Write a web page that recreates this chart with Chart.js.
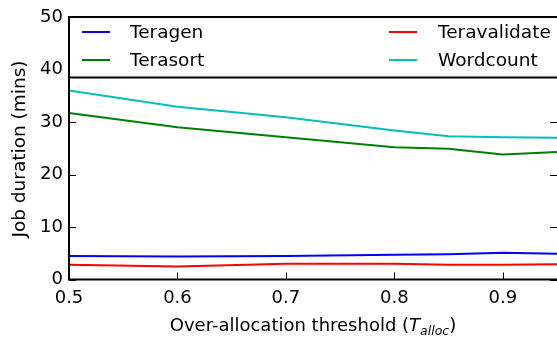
<!DOCTYPE html>
<html>
<head>
<meta charset="utf-8">
<script src="https://cdn.jsdelivr.net/npm/chart.js@4/dist/chart.umd.min.js"></script>
<style>
  html, body { margin: 0; padding: 0; background: #fff; }
  canvas { display: block; }
</style>
</head>
<body>
<canvas id="chart" width="557" height="339"></canvas>
<script>
// over-allocation thresholds (x) and job durations in minutes
const thresholds = [0.5, 0.6, 0.7, 0.8, 0.85, 0.9, 0.95];
const teragen = [4.5, 4.4, 4.5, 4.7, 4.8, 5.1, 4.9];
const teravalidate = [2.8, 2.5, 3.0, 3.0, 2.8, 2.8, 2.9];
const terasort = [31.7, 29.0, 27.1, 25.2, 24.9, 23.8, 24.3];
const wordcount = [36.0, 32.9, 30.9, 28.4, 27.3, 27.1, 27.0];

const xTicks = [0.5, 0.6, 0.7, 0.8, 0.9];
const yTicks = [0, 10, 20, 30, 40, 50];

const FONT = '"DejaVu Sans", sans-serif';

const toPoints = (ys) => ys.map((y, i) => ({ x: thresholds[i], y }));

const series = [
  { label: "Teragen", data: teragen, color: "#0000ff" },
  { label: "Terasort", data: terasort, color: "#008000" },
  { label: "Teravalidate", data: teravalidate, color: "#ff0000" },
  { label: "Wordcount", data: wordcount, color: "#00bfbf" },
];

// matplotlib-ish frame: inward ticks, boxed legend, mathtext x label
const framePlugin = {
  id: "frame",
  afterDraw(chart) {
    const ctx = chart.ctx;
    const { left, right, top, bottom } = chart.chartArea;
    const xs = chart.scales.x;
    const ys = chart.scales.y;

    ctx.save();
    ctx.strokeStyle = "#000";
    ctx.lineWidth = 1;
    ctx.beginPath();
    xTicks.forEach((v) => {
      const px = Math.round(xs.getPixelForValue(v)) + 0.5;
      ctx.moveTo(px, bottom);
      ctx.lineTo(px, bottom - 7);
    });
    yTicks.forEach((v) => {
      const py = Math.round(ys.getPixelForValue(v)) + 0.5;
      ctx.moveTo(left, py);
      ctx.lineTo(left + 7, py);
      ctx.moveTo(right, py);
      ctx.lineTo(right - 7, py);
    });
    ctx.stroke();

    // legend box, two columns
    const boxBottom = 77.5;
    ctx.fillStyle = "#fff";
    ctx.fillRect(left, top, right - left + 2, boxBottom - top);
    ctx.lineWidth = 2;
    ctx.strokeRect(left, top, right - left + 4, boxBottom - top);

    const cols = [
      { lineX: 82, textX: 130 },
      { lineX: 389, textX: 438 },
    ];
    const rows = [32, 60];
    ctx.font = "18.5px " + FONT;
    ctx.textBaseline = "middle";
    ctx.textAlign = "left";
    chart.data.datasets.forEach((ds, i) => {
      const c = cols[Math.floor(i / 2)];
      const y = rows[i % 2];
      ctx.strokeStyle = ds.borderColor;
      ctx.lineWidth = 2;
      ctx.beginPath();
      ctx.moveTo(c.lineX, y);
      ctx.lineTo(c.lineX + 28, y);
      ctx.stroke();
      ctx.fillStyle = "#000";
      ctx.fillText(ds.label, c.textX, y + 1);
    });

    // spines
    ctx.strokeStyle = "#000";
    ctx.lineWidth = 2;
    ctx.beginPath();
    ctx.moveTo(left, top);
    ctx.lineTo(left, bottom);
    ctx.lineTo(right + 2, bottom);
    ctx.moveTo(left, top);
    ctx.lineTo(right + 2, top);
    ctx.stroke();

    // tick labels
    ctx.fillStyle = "#000";
    ctx.font = "18px " + FONT;
    ctx.textAlign = "center";
    ctx.textBaseline = "alphabetic";
    xTicks.forEach((v) => {
      ctx.fillText(v.toFixed(1), xs.getPixelForValue(v), 303);
    });
    ctx.textAlign = "right";
    ctx.textBaseline = "middle";
    yTicks.forEach((v) => {
      ctx.fillText(String(v), 63, ys.getPixelForValue(v));
    });

    // y title
    ctx.save();
    ctx.translate(20, 149);
    ctx.rotate(-Math.PI / 2);
    ctx.font = "18.5px " + FONT;
    ctx.textAlign = "center";
    ctx.textBaseline = "middle";
    ctx.fillText("Job duration (mins)", 0, 0);
    ctx.restore();

    // x title with T_alloc
    const base = 331;
    const mainFont = "18px " + FONT;
    const itFont = "italic 18px " + FONT;
    const subFont = "italic 12.5px " + FONT;
    const parts = [
      { t: "Over-allocation threshold (", f: mainFont, dy: 0 },
      { t: "T", f: itFont, dy: 0 },
      { t: "alloc", f: subFont, dy: 4 },
      { t: ")", f: mainFont, dy: 0 },
    ];
    let total = 0;
    parts.forEach((p) => {
      ctx.font = p.f;
      p.w = ctx.measureText(p.t).width;
      total += p.w;
    });
    let x = 313 - total / 2;
    ctx.textAlign = "left";
    ctx.textBaseline = "alphabetic";
    parts.forEach((p) => {
      ctx.font = p.f;
      ctx.fillText(p.t, x, base + p.dy);
      x += p.w;
    });
    ctx.restore();
  },
};

new Chart(document.getElementById("chart").getContext("2d"), {
  type: "line",
  data: {
    datasets: series.map((s) => ({
      label: s.label,
      data: toPoints(s.data),
      borderColor: s.color,
      backgroundColor: s.color,
      borderWidth: 2,
      pointRadius: 0,
      tension: 0,
      fill: false,
    })),
  },
  options: {
    responsive: false,
    animation: false,
    layout: { padding: { top: 17, right: 0, left: 0, bottom: 0 } },
    plugins: { legend: { display: false }, tooltip: { enabled: false } },
    scales: {
      x: {
        type: "linear",
        min: 0.5,
        max: 0.95,
        ticks: { display: false },
        grid: { display: false },
        border: { display: false },
        afterFit: (s) => { s.height = 59.5; },
      },
      y: {
        min: 0,
        max: 50,
        ticks: { display: false },
        grid: { display: false },
        border: { display: false },
        afterFit: (s) => { s.width = 69; },
      },
    },
  },
  plugins: [framePlugin],
});
</script>
</body>
</html>
